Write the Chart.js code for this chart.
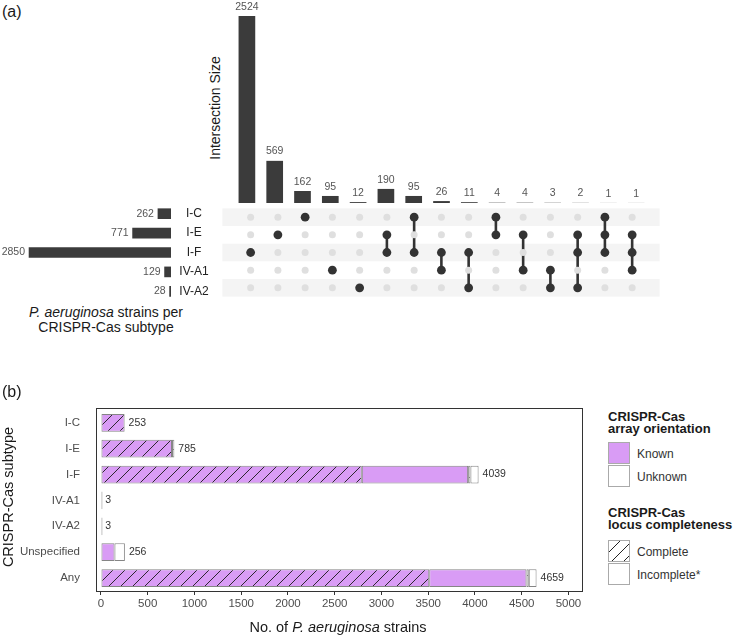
<!DOCTYPE html>
<html>
<head>
<meta charset="utf-8">
<script src="https://cdn.jsdelivr.net/npm/chart.js@4.4.1/dist/chart.umd.min.js"></script>
<style>
  body { margin: 0; background: #fff; }
  #page { position: relative; width: 734px; height: 635px; overflow: hidden; font-family: 'Liberation Sans', Arial, Helvetica, sans-serif; color: #1a1a1a; }
  canvas { position: absolute; }
  .t { position: absolute; white-space: nowrap; line-height: 1; }
  .c { transform: translate(-50%, -50%); }
  .r { transform: translate(-50%, -50%) rotate(-90deg); }
  .key { position: absolute; left: 608px; width: 22px; height: 22px; border: 1px solid #aaa; box-sizing: border-box; }
  .lt { position: absolute; left: 608px; font-weight: bold; font-size: 13px; line-height: 12.4px; white-space: nowrap; }
  .ll { position: absolute; left: 637px; font-size: 12px; color: #333; transform: translateY(-50%); white-space: nowrap; }
</style>
</head>
<body>
<div id="page">
  <canvas id="intersections" width="417" height="203" style="left:233px; top:0px;"></canvas>
  <canvas id="matrix" width="446" height="97" style="left:218px; top:203.5px;"></canvas>
  <canvas id="setsizes" width="216" height="97" style="left:0px; top:203.5px;"></canvas>
  <canvas id="subtypes" width="600" height="240" style="left:0px; top:395px;"></canvas>

  <div class="t" style="left:2px; top:4px; font-size:16px;">(a)</div>
  <div class="t r" style="left:215px; top:108px; font-size:14px;">Intersection Size</div>
  <div class="t c" style="left:106px; top:320px; font-size:14px; line-height:15.4px; text-align:center;"><i>P. aeruginosa</i> strains per<br>CRISPR-Cas subtype</div>

  <div class="t" style="left:2px; top:384px; font-size:16px;">(b)</div>
  <div class="t r" style="left:8px; top:497px; font-size:14.5px;">CRISPR-Cas subtype</div>
  <div class="t c" style="left:338px; top:627px; font-size:14.5px;">No. of <i>P. aeruginosa</i> strains</div>

  <div class="lt" style="top:410.5px;">CRISPR-Cas<br>array orientation</div>
  <div class="key" style="top:442px; background:#d99cf5;"></div>
  <div class="key" style="top:465px; background:#fff;"></div>
  <div class="ll" style="top:453.5px;">Known</div>
  <div class="ll" style="top:476.5px;">Unknown</div>

  <div class="lt" style="top:507px;">CRISPR-Cas<br>locus completeness</div>
  <div class="key" style="top:540px; background:repeating-linear-gradient(135deg, #fff 0px, #fff 7.4px, #222 7.4px, #222 8.4px);"></div>
  <div class="key" style="top:563px; background:#fff;"></div>
  <div class="ll" style="top:551.5px;">Complete</div>
  <div class="ll" style="top:575px;">Incomplete*</div>
</div>

<script>
const FONT = "'Liberation Sans', Arial, Helvetica, sans-serif";
Chart.defaults.font.family = FONT;

// panel (a): UpSet data
const setNames = ['I-C', 'I-E', 'I-F', 'IV-A1', 'IV-A2'];
const setSizes = [262, 771, 2850, 129, 28];
const intersectionSizes = [2524, 569, 162, 95, 12, 190, 95, 26, 11, 4, 4, 3, 2, 1, 1];
const intersectionMembers = [
  ['I-F'], ['I-E'], ['I-C'], ['IV-A1'], ['IV-A2'],
  ['I-E', 'I-F'], ['I-C', 'I-F'], ['I-F', 'IV-A1'], ['I-F', 'IV-A2'],
  ['I-C', 'I-E'], ['I-E', 'IV-A1'], ['IV-A1', 'IV-A2'],
  ['I-E', 'I-F', 'IV-A2'], ['I-C', 'I-E', 'I-F'], ['I-E', 'I-F', 'IV-A1']
];

// panel (b): strains per subtype
const subtypes = ['I-C', 'I-E', 'I-F', 'IV-A1', 'IV-A2', 'Unspecified', 'Any'];
const knownComplete = [253, 760, 2790, 3, 3, 0, 3511];
const knownIncomplete = [0, 0, 1137, 0, 0, 145, 1040];
const unknownComplete = [0, 25, 25, 0, 0, 0, 25];
const unknownIncomplete = [0, 0, 87, 0, 0, 111, 83];
const strainTicks = [0, 500, 1000, 1500, 2000, 2500, 3000, 3500, 4000, 4500, 5000];

const DARK = '#3b3b3b';
const PURPLE = '#d99cf5';

// numbers above intersection bars
const intersectionLabels = {
  id: 'intersectionLabels',
  afterDatasetsDraw(chart) {
    const ctx = chart.ctx;
    ctx.save();
    ctx.font = '10.5px ' + FONT;
    ctx.fillStyle = '#555';
    ctx.textAlign = 'center';
    ctx.textBaseline = 'bottom';
    chart.getDatasetMeta(0).data.forEach((bar, i) => {
      ctx.fillText(intersectionSizes[i], bar.x, bar.y - 4);
    });
    ctx.restore();
  }
};

new Chart(document.getElementById('intersections'), {
  type: 'bar',
  data: {
    labels: intersectionSizes.map((v, i) => 'c' + i),
    datasets: [{
      data: intersectionSizes,
      backgroundColor: DARK,
      categoryPercentage: 1,
      barPercentage: 0.6
    }]
  },
  options: {
    responsive: false,
    animation: false,
    layout: { padding: 0 },
    plugins: { legend: { display: false }, tooltip: { enabled: false } },
    scales: {
      x: { display: false },
      y: { display: false, min: 0, max: 2740 }
    }
  },
  plugins: [intersectionLabels]
});

// matrix of dots
const inactive = [];
intersectionMembers.forEach((m, c) => {
  setNames.forEach((s, r) => {
    if (!m.includes(s)) inactive.push({ x: c, y: r });
  });
});

const stripes = {
  id: 'stripes',
  beforeDatasetsDraw(chart) {
    const { ctx, chartArea, scales } = chart;
    ctx.save();
    ctx.fillStyle = '#f4f4f4';
    for (let r = 0; r < setNames.length; r += 2) {
      const y0 = scales.y.getPixelForValue(r - 0.5);
      const y1 = scales.y.getPixelForValue(r + 0.5);
      ctx.fillRect(chartArea.left, Math.min(y0, y1), chartArea.right - chartArea.left, Math.abs(y1 - y0));
    }
    ctx.restore();
  }
};

const matrixSets = [{
  data: inactive,
  pointRadius: 3.5,
  pointBackgroundColor: '#dfdfdf',
  pointBorderWidth: 0,
  showLine: false
}];
intersectionMembers.forEach((m, c) => {
  matrixSets.push({
    data: m.map(s => ({ x: c, y: setNames.indexOf(s) })).sort((a, b) => a.y - b.y),
    showLine: true,
    borderColor: '#333',
    borderWidth: 2.6,
    pointRadius: 4.4,
    pointBackgroundColor: '#333',
    pointBorderWidth: 0
  });
});

new Chart(document.getElementById('matrix'), {
  type: 'scatter',
  data: { datasets: matrixSets },
  options: {
    responsive: false,
    animation: false,
    layout: { padding: 0 },
    plugins: { legend: { display: false }, tooltip: { enabled: false } },
    scales: {
      x: { type: 'linear', display: false, min: -1.036, max: 15.007 },
      y: { type: 'linear', display: false, min: -0.5, max: 4.5, reverse: true }
    }
  },
  plugins: [stripes]
});

// set sizes on the left
const setLabels = {
  id: 'setLabels',
  afterDatasetsDraw(chart) {
    const { ctx, chartArea } = chart;
    ctx.save();
    ctx.textBaseline = 'middle';
    chart.getDatasetMeta(0).data.forEach((bar, i) => {
      ctx.font = '10.5px ' + FONT;
      ctx.fillStyle = '#555';
      ctx.textAlign = 'right';
      ctx.fillText(setSizes[i], bar.x - 4, bar.y);
      ctx.font = '12px ' + FONT;
      ctx.fillStyle = '#222';
      ctx.textAlign = 'center';
      ctx.fillText(setNames[i], chartArea.right + 23, bar.y);
    });
    ctx.restore();
  }
};

new Chart(document.getElementById('setsizes'), {
  type: 'bar',
  data: {
    labels: setNames,
    datasets: [{ data: setSizes, backgroundColor: DARK, barThickness: 10 }]
  },
  options: {
    indexAxis: 'y',
    responsive: false,
    animation: false,
    layout: { padding: { left: 0, right: 45, top: 0, bottom: 0 } },
    plugins: { legend: { display: false }, tooltip: { enabled: false } },
    scales: {
      x: { display: false, min: 0, max: 3433, reverse: true },
      y: { display: false }
    }
  },
  plugins: [setLabels]
});

// panel (b)
const subCanvas = document.getElementById('subtypes');
function hatch(bg) {
  const c = document.createElement('canvas');
  c.width = 12;
  c.height = 12;
  const g = c.getContext('2d');
  g.fillStyle = bg;
  g.fillRect(0, 0, 12, 12);
  g.strokeStyle = '#1a1a1a';
  g.lineWidth = 0.9;
  g.beginPath();
  g.moveTo(-1, 13); g.lineTo(13, -1);
  g.moveTo(-1, 1); g.lineTo(1, -1);
  g.moveTo(11, 13); g.lineTo(13, 11);
  g.stroke();
  return subCanvas.getContext('2d').createPattern(c, 'repeat');
}

const totals = subtypes.map((s, i) => knownComplete[i] + knownIncomplete[i] + unknownComplete[i] + unknownIncomplete[i]);

const plotBox = {
  id: 'plotBox',
  beforeDatasetsDraw(chart) {
    const { ctx, chartArea } = chart;
    ctx.save();
    ctx.strokeStyle = '#333';
    ctx.lineWidth = 1;
    const l = Math.round(chartArea.left) + 0.5;
    const r = Math.round(chartArea.right) + 0.5;
    const t = Math.round(chartArea.top) - 2 + 0.5;
    const b = Math.round(chartArea.bottom) + 0.5;
    ctx.strokeRect(l, t, r - l, b - t);
    ctx.restore();
  },
  afterDatasetsDraw(chart) {
    const { ctx, scales } = chart;
    ctx.save();
    ctx.font = '10.5px ' + FONT;
    ctx.fillStyle = '#333';
    ctx.textAlign = 'left';
    ctx.textBaseline = 'middle';
    totals.forEach((v, i) => {
      ctx.fillText(v, scales.x.getPixelForValue(v) + 4, scales.y.getPixelForValue(i));
    });
    ctx.restore();
  }
};

const segment = (data, fill) => ({
  data: data.map(v => (v === 0 ? null : v)),
  backgroundColor: fill,
  borderColor: '#858585',
  borderWidth: 1,
  borderSkipped: false,
  minBarLength: 1.5,
  categoryPercentage: 1,
  barPercentage: 0.685
});

new Chart(subCanvas, {
  type: 'bar',
  data: {
    labels: subtypes,
    datasets: [
      segment(knownComplete, hatch(PURPLE)),
      segment(knownIncomplete, PURPLE),
      segment(unknownComplete, hatch('#ffffff')),
      segment(unknownIncomplete, '#ffffff')
    ]
  },
  options: {
    indexAxis: 'y',
    responsive: false,
    animation: false,
    layout: { padding: { left: 0, right: 18, top: 9, bottom: 0 } },
    plugins: { legend: { display: false }, tooltip: { enabled: false } },
    scales: {
      x: {
        stacked: true,
        min: -53,
        max: 5145,
        afterBuildTicks: (scale) => { scale.ticks = strainTicks.map(v => ({ value: v })); },
        afterFit: (scale) => { scale.height = 44; },
        grid: { display: true, drawOnChartArea: false, drawTicks: true, tickLength: 4, color: '#333' },
        border: { display: false },
        ticks: {
          color: '#4d4d4d',
          font: { size: 11.5 },
          padding: 2,
          maxRotation: 0,
          callback: (value) => String(value)
        }
      },
      y: {
        stacked: true,
        afterFit: (scale) => { scale.width = 96; },
        grid: { display: false },
        border: { display: false },
        ticks: { color: '#4d4d4d', font: { size: 11.5 }, padding: 8 }
      }
    }
  },
  plugins: [plotBox]
});
</script>
</body>
</html>
